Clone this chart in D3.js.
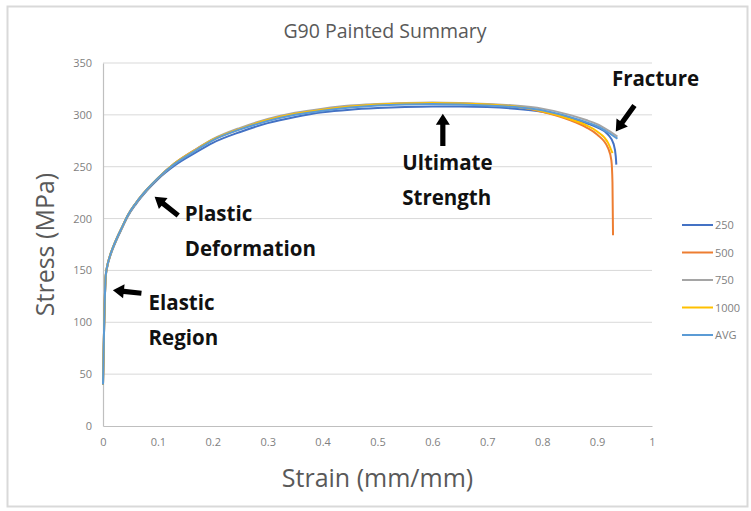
<!DOCTYPE html>
<html><head><meta charset="utf-8">
<script src="https://cdn.jsdelivr.net/npm/d3@7"></script>
<style>body{margin:0;background:#fff}svg{display:block}</style>
</head><body>
<svg id="c" width="751" height="511"></svg>
<script>
const title = "G90 Painted Summary";
const xTicks = [0,0.1,0.2,0.3,0.4,0.5,0.6,0.7,0.8,0.9,1];
const yTicks = [0,50,100,150,200,250,300,350];
const seriesNames = ["250","500","750","1000","AVG"];
const seriesColors = ["#4472C4","#ED7D31","#A5A5A5","#FFC000","#5B9BD5"];

const strainBase = [0,0.002,0.005,0.008,0.012,0.018,0.026,0.035,0.045,0.06,0.08,0.1,0.13,0.17,0.2,0.25,0.3,0.35,0.4,0.45,0.5,0.55,0.6,0.65,0.7,0.75,0.8,0.85,0.88,0.9,0.92];

const strain250 = strainBase.concat([0.93,0.934,0.935]);
const stress250 = [40,94,144,154,162,171,181,191,202,214,227,238,251,264,273,283.5,292,298,302.5,305,306.5,307.5,308,308,307.5,306,303,297,292,288,281,272,260,252];

const strain500 = strainBase.concat([0.926,0.928,0.929]);
const stress500 = [40,95,145,155,163,172,182,192,203,215,228,239,253,267,276,286.5,295,301,305,308,310,311,311.5,311,310,308,303,295,288,281,268,256,235,184];

const strain750 = strainBase.concat([0.937]);
const stress750 = [40,95,145,155,163,172,182,192,203,215,228,239,253,267,276.5,287.5,296,302,306,309,310.5,311.5,312,311.5,310.5,309,306,300,295,291,285,279];

const strain1000 = strainBase.concat([0.928]);
const stress1000 = [40,95,145,155,163,172,182,192,203,215,228,239,253,266.5,276,286.5,295,301,305,308,310,311,311.5,311,310,308,303.5,296,290,284,273,263];

const strainAVG = strainBase.concat([0.937]);
const stressAVG = [40,95,145,155,163,172,182,192,203,215,228,239,252.5,266,275.5,286,294,300,304,307,309,310,310.5,310,309,307.5,304.5,298,293,289,283,277];

const strains = [strain250,strain500,strain750,strain1000,strainAVG];
const stresses = [stress250,stress500,stress750,stress1000,stressAVG];

const notes = [
  {lines:["Elastic","Region"], sx:0.083, sy:112},
  {lines:["Plastic","Deformation"], sx:0.149, sy:198},
  {lines:["Ultimate","Strength"], sx:0.545, sy:247},
  {lines:["Fracture"], sx:0.927, sy:328}
];
const arrows = [
  {from:[0.07,128], to:[0.018,131]},
  {from:[0.137,203], to:[0.094,221]},
  {from:[0.619,270], to:[0.619,301]},
  {from:[0.968,309], to:[0.934,284]}
];

const svg = d3.select("#c");
const m = {l:103, r:652, t:63, b:426};
const x = d3.scaleLinear().domain([0,1]).range([m.l,m.r]);
const y = d3.scaleLinear().domain([0,350]).range([m.b,m.t]);

svg.append("rect").attr("x",7.5).attr("y",6.5).attr("width",740).attr("height",500)
  .attr("fill","#fff").attr("stroke","#d9d9d9").attr("stroke-width",2);

const font = "'Open Sans', Calibri, sans-serif";

svg.append("text").attr("x",385).attr("y",38).attr("text-anchor","middle")
  .attr("font-family",font).attr("font-size",19.5).attr("fill","#595959").text(title);

svg.append("g").selectAll("line").data(yTicks.filter(d=>d>0)).join("line")
  .attr("x1",m.l).attr("x2",m.r).attr("y1",d=>y(d)).attr("y2",d=>y(d))
  .attr("stroke","#d9d9d9").attr("stroke-width",1);

const xa = svg.append("g").attr("transform",`translate(0,${m.b})`)
  .call(d3.axisBottom(x).tickValues(xTicks).tickSize(0).tickPadding(12).tickFormat(d=>d3.format("")(d)));
const ya = svg.append("g").attr("transform",`translate(${m.l},0)`)
  .call(d3.axisLeft(y).tickValues(yTicks).tickSize(0).tickPadding(11));
[xa,ya].forEach(a=>{
  a.select(".domain").attr("stroke","#bfbfbf").attr("stroke-width",1.2);
  a.selectAll("text").attr("font-family",font).attr("font-size",11).attr("fill","#7f7f7f");
});

svg.append("text").attr("x",(m.l+m.r)/2).attr("y",487).attr("text-anchor","middle")
  .attr("font-family",font).attr("font-size",25).attr("fill","#595959").text("Strain (mm/mm)");
svg.append("text").attr("transform",`translate(54,${(m.t+m.b)/2}) rotate(-90)`).attr("text-anchor","middle")
  .attr("font-family",font).attr("font-size",25).attr("fill","#595959").text("Stress (MPa)");

const line = d3.line().x(d=>x(d[0])).y(d=>y(d[1])).curve(d3.curveMonotoneX);
seriesNames.forEach((n,i)=>{
  const pts = strains[i].map((s,j)=>[s,stresses[i][j]]);
  svg.append("path").datum(pts).attr("d",line).attr("fill","none")
    .attr("stroke",seriesColors[i]).attr("stroke-width",2).attr("stroke-linejoin","round");
});

const lg = svg.append("g");
seriesNames.forEach((n,i)=>{
  const yy = 225 + i*27.5;
  lg.append("line").attr("x1",682).attr("x2",713).attr("y1",yy).attr("y2",yy)
    .attr("stroke",seriesColors[i]).attr("stroke-width",2);
  lg.append("text").attr("x",715).attr("y",yy+4).attr("font-family",font).attr("font-size",11)
    .attr("fill","#7f7f7f").text(n);
});

notes.forEach(nt=>{
  const t = svg.append("text").attr("font-family",font).attr("font-weight","bold")
    .attr("font-size",20.5).attr("fill","#111");
  nt.lines.forEach((l,k)=>{
    t.append("tspan").attr("x",x(nt.sx)).attr("y",y(nt.sy)+k*35).text(l);
  });
});
arrows.forEach(a=>{
  const x1=x(a.from[0]), y1=y(a.from[1]), x2=x(a.to[0]), y2=y(a.to[1]);
  const ang = Math.atan2(y2-y1,x2-x1);
  const hl = 11, hw = 7, sw = 2.6;
  const bx = x2 - hl*Math.cos(ang), by = y2 - hl*Math.sin(ang);
  const px = -Math.sin(ang), py = Math.cos(ang);
  const pts = [
    [x1+px*sw,y1+py*sw],[bx+px*sw,by+py*sw],[bx+px*hw,by+py*hw],[x2,y2],
    [bx-px*hw,by-py*hw],[bx-px*sw,by-py*sw],[x1-px*sw,y1-py*sw]
  ];
  svg.append("polygon").attr("points",pts.map(p=>p.join(",")).join(" ")).attr("fill","#000");
});
</script>
</body></html>
